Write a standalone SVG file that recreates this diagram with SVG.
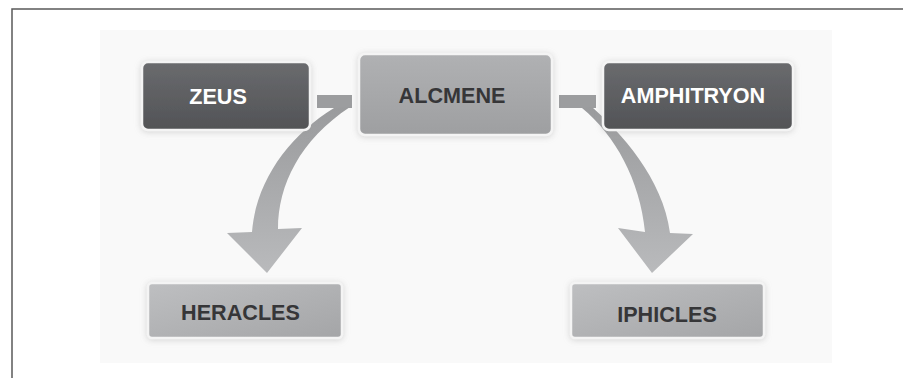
<svg xmlns="http://www.w3.org/2000/svg" width="903" height="378" viewBox="0 0 903 378">
  <defs>
    <linearGradient id="gDark" x1="0" y1="0" x2="0" y2="1">
      <stop offset="0" stop-color="#6a6b6e"/>
      <stop offset="1" stop-color="#525356"/>
    </linearGradient>
    <linearGradient id="gMid" x1="0" y1="0" x2="0" y2="1">
      <stop offset="0" stop-color="#b0b1b3"/>
      <stop offset="1" stop-color="#9e9fa1"/>
    </linearGradient>
    <linearGradient id="gLight" x1="0" y1="0" x2="1" y2="1">
      <stop offset="0" stop-color="#bebfc1"/>
      <stop offset="1" stop-color="#a4a5a7"/>
    </linearGradient>
    <linearGradient id="gArrow" x1="0" y1="0" x2="0" y2="1">
      <stop offset="0" stop-color="#9a9b9d"/>
      <stop offset="1" stop-color="#b9babc"/>
    </linearGradient>
    <filter id="glow" x="-10%" y="-20%" width="120%" height="140%">
      <feDropShadow dx="0" dy="1" stdDeviation="3" flood-color="#9a9a9a" flood-opacity="0.4"/>
    </filter>
  </defs>
  <style>
    .box { stroke: #f4f4f4; stroke-width: 2.5; filter: url(#glow); }
    .lbl { font-family: "Liberation Sans", Arial, sans-serif; font-weight: bold; font-size: 21.6px; text-anchor: middle; }
    .w { fill: #ffffff; }
    .d { fill: #363638; }
    .bar { fill: #9c9d9f; }
    .arr { fill: url(#gArrow); }
  </style>
  <rect x="0" y="0" width="903" height="378" fill="#ffffff"/>
  <path d="M12 378 V9 H903" fill="none" stroke="#5a5a5a" stroke-width="1.5"/>
  <rect x="100" y="30" width="732" height="333" fill="#f9f9f9"/>

  <g id="connectors">
    <rect class="bar" x="317" y="95" width="35" height="13"/>
    <rect class="bar" x="559" y="95" width="37" height="13"/>
    <path class="arr" d="M334 108 C290 135 256 180 252 232 L227 233 L267 273 L302 228 L278 229 C278 185 300 140 350 107 Z"/>
    <path class="arr" d="M592 107 C620 132 663 178 670 233 L693 234 L652 273 L618 228 L645 232 C640 180 615 135 582 108 Z"/>
  </g>

  <g id="zeus">
    <rect class="box" x="142" y="62" width="168" height="68" rx="6" fill="url(#gDark)"/>
    <text class="lbl w" x="218" y="104">ZEUS</text>
  </g>
  <g id="alcmene">
    <rect class="box" x="359" y="54" width="193" height="81" rx="6" fill="url(#gMid)"/>
    <text class="lbl d" x="452" y="103">ALCMENE</text>
  </g>
  <g id="amphitryon">
    <rect class="box" x="603" y="62" width="190" height="68" rx="6" fill="url(#gDark)"/>
    <text class="lbl w" x="693" y="103">AMPHITRYON</text>
  </g>
  <g id="heracles">
    <rect class="box" x="148" y="283" width="194" height="55" rx="4" fill="url(#gLight)"/>
    <text class="lbl d" x="240.5" y="320">HERACLES</text>
  </g>
  <g id="iphicles">
    <rect class="box" x="571" y="283" width="193" height="55" rx="4" fill="url(#gLight)"/>
    <text class="lbl d" x="667" y="322">IPHICLES</text>
  </g>
</svg>
